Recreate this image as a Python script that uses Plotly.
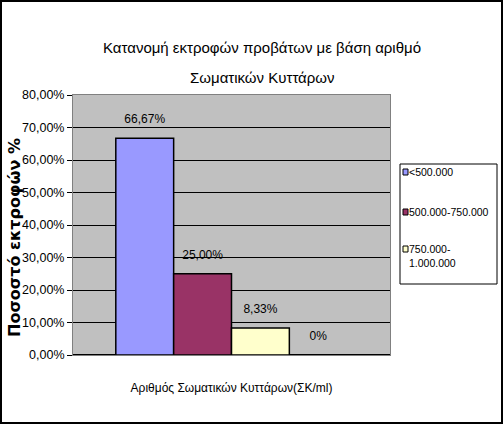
import plotly.graph_objects as go

# data
series_names = ["<500.000", "500.000-750.000", "750.000-<br>1.000.000", ""]
shares = [0.6667, 0.25, 0.0833, 0.0]
bar_labels = ["66,67%", "25,00%", "8,33%", "0%"]
bar_colors = ["#9999FF", "#993366", "#FFFFCC", "rgba(0,0,0,0)"]
category = ["Αριθμός Σωματικών Κυττάρων(ΣΚ/ml)"]

title_lines = ["Κατανομή εκτροφών προβάτων με βάση αριθμό", "Σωματικών Κυττάρων"]
y_title = "Ποσοστό εκτροφών %"

SANS = "Liberation Sans, Arial, sans-serif"
W, H = 503, 424
ML, MR, MT, MB = 73, 113, 95, 69
PW, PH = W - ML - MR, H - MT - MB
GAP = 0.27


def px_x(x):
    return (x - ML) / PW


def px_y(y):
    return (MT + PH - y) / PH


fig = go.Figure()
for i, (name, val, col) in enumerate(zip(series_names, shares, bar_colors)):
    fig.add_trace(go.Bar(
        x=[""], y=[val], name=name, offsetgroup=str(i),
        marker=dict(color=col, line=dict(color="black" if val else "rgba(0,0,0,0)", width=1.5)),
        showlegend=False, hoverinfo="skip",
    ))
# value labels: invisible grouped points so the text sits a little above each bar
for i, (val, lab) in enumerate(zip(shares, bar_labels)):
    fig.add_trace(go.Scatter(
        x=[""], y=[val], offsetgroup=str(i), mode="markers+text",
        marker=dict(size=18, opacity=0), text=[lab], textposition="top center",
        textfont=dict(family=SANS, size=12, color="black"), cliponaxis=False,
        showlegend=False, hoverinfo="skip",
    ))

fig.update_layout(
    width=W, height=H, autosize=False,
    margin=dict(l=ML, r=MR, t=MT, b=MB),
    paper_bgcolor="white", plot_bgcolor="#C0C0C0",
    barmode="group", bargap=GAP, bargroupgap=0,
    scattermode="group", scattergap=GAP,
    separators=",.",
    font=dict(family=SANS, color="black"),
)
fig.update_xaxes(showticklabels=False, showline=True, mirror=True, linecolor="#808080",
                 linewidth=1, showgrid=False,
                 title=dict(text=category[0], standoff=28,
                            font=dict(family=SANS, size=12, color="black")))
fig.update_yaxes(range=[0, 0.8], dtick=0.1, tickformat=".2%", showgrid=True,
                 gridcolor="black", gridwidth=1, zeroline=True, zerolinecolor="black",
                 showline=True, mirror=True, linecolor="#808080",
                 ticks="outside", ticklen=5, tickcolor="black",
                 tickfont=dict(family=SANS, size=12.5, color="black"))

# two-line title, with the wide line spacing of the original
for line, cy in zip(title_lines, [48, 77]):
    fig.add_annotation(text=line, xref="paper", yref="paper", x=px_x(262), y=px_y(cy),
                       xanchor="center", yanchor="middle", showarrow=False,
                       font=dict(family=SANS, size=15, color="black"))

# y axis title
fig.add_annotation(text="<b>" + y_title + "</b>", xref="paper", yref="paper",
                   x=px_x(14), y=px_y(238), xanchor="center", yanchor="middle",
                   textangle=-90, showarrow=False,
                   font=dict(family="DejaVu Sans, sans-serif", size=16, color="black"))

# boxed legend drawn by hand, as narrow as the original
fig.add_shape(type="rect", xref="paper", yref="paper", x0=px_x(400), x1=px_x(497),
              y0=px_y(284), y1=px_y(164), line=dict(color="black", width=1), fillcolor="white")
for name, col, cy in zip(series_names[:3], bar_colors[:3], [172, 212, 249]):
    fig.add_shape(type="rect", xref="paper", yref="paper", x0=px_x(403), x1=px_x(408),
                  y0=px_y(cy + 3), y1=px_y(cy - 3), line=dict(color="black", width=1),
                  fillcolor=col)
    fig.add_annotation(text=name, xref="paper", yref="paper", x=px_x(407), y=px_y(cy - 8),
                       xanchor="left", yanchor="top", align="left", showarrow=False,
                       font=dict(family=SANS, size=10.5, color="black"))

# outer frame
fig.add_shape(type="rect", xref="paper", yref="paper", x0=px_x(1), x1=px_x(W - 1),
              y0=px_y(H - 1), y1=px_y(1), line=dict(color="black", width=2))

fig.write_html("out.html", config={"displayModeBar": False},
               post_script="document.body.style.margin='0';")
